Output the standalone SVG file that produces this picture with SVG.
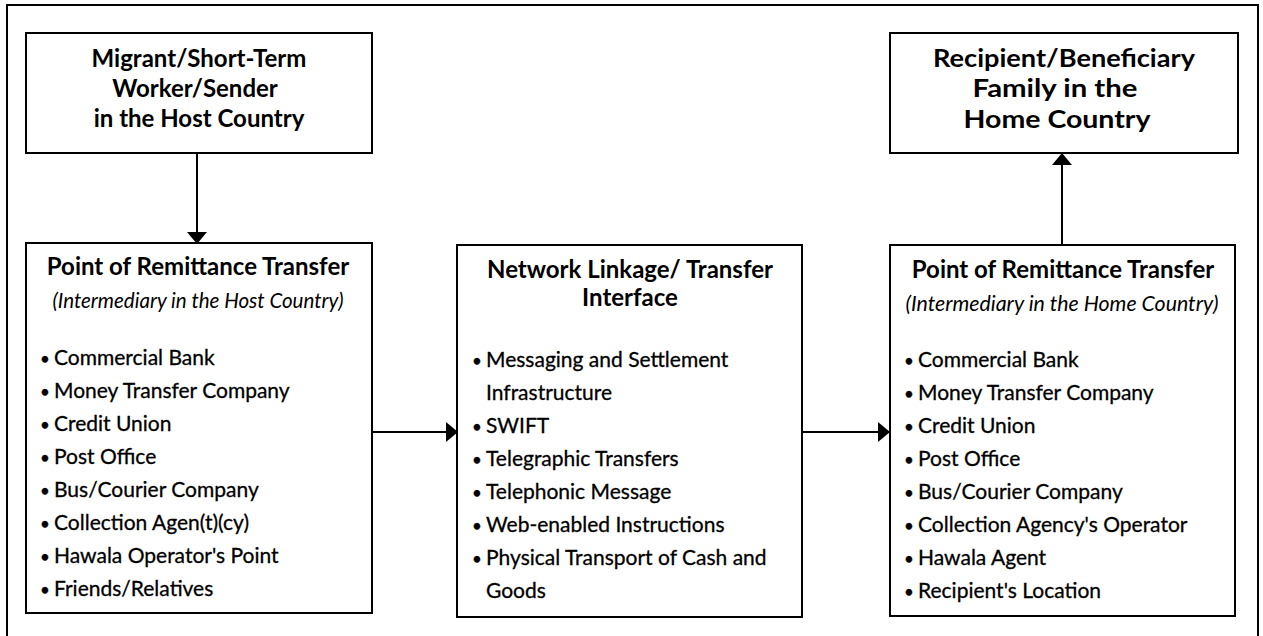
<svg xmlns="http://www.w3.org/2000/svg" width="1263" height="636" viewBox="0 0 1263 636">
<style>
.box{fill:#fff;stroke:#000;stroke-width:2}
.frame{fill:none;stroke:#000;stroke-width:2}
.t{font-family:Lato,"Open Sans","Liberation Sans",sans-serif;fill:#000}
.h{font-size:24px;font-weight:bold;text-anchor:middle}
.s{font-size:21px;font-style:italic;text-anchor:middle}
.b{font-size:21px;stroke:#000;stroke-width:0.3}
.d{font-size:17px}
.con{stroke:#000;stroke-width:2;fill:none}
</style>
<defs>
<marker id="ah" markerWidth="12" markerHeight="20" refX="11" refY="10" orient="auto" markerUnits="userSpaceOnUse">
<path d="M0,0 L12,10 L0,20 Z" fill="#000"/>
</marker>
</defs>
<rect width="1263" height="636" fill="#fff"/>
<path class="frame" d="M7,636 L7,5 L1258,5 L1258,636"/>

<g id="sender">
<rect class="box" x="26" y="33" width="346" height="120"/>
<text class="t h" x="199" y="67">Migrant/Short-Term</text>
<text class="t h" x="195" y="97">Worker/Sender</text>
<text class="t h" x="199" y="127">in the Host Country</text>
</g>

<g id="recipient">
<rect class="box" x="890" y="33" width="348" height="120"/>
<text class="t h" x="1064" y="67" textLength="262" lengthAdjust="spacingAndGlyphs">Recipient/Beneficiary</text>
<text class="t h" x="1055" y="97" textLength="165" lengthAdjust="spacingAndGlyphs">Family in the</text>
<text class="t h" x="1057" y="128" textLength="187" lengthAdjust="spacingAndGlyphs">Home Country</text>
</g>

<g id="host-point">
<rect class="box" x="26" y="243" width="346" height="370"/>
<text class="t h" x="198" y="275">Point of Remittance Transfer</text>
<text class="t s" x="198" y="308" textLength="291" lengthAdjust="spacingAndGlyphs">(Intermediary in the Host Country)</text>
<text class="t b" y="365"><tspan class="d" x="40">•</tspan><tspan x="54">Commercial Bank</tspan></text>
<text class="t b" y="398"><tspan class="d" x="40">•</tspan><tspan x="54">Money Transfer Company</tspan></text>
<text class="t b" y="431"><tspan class="d" x="40">•</tspan><tspan x="54">Credit Union</tspan></text>
<text class="t b" y="464"><tspan class="d" x="40">•</tspan><tspan x="54">Post Office</tspan></text>
<text class="t b" y="497"><tspan class="d" x="40">•</tspan><tspan x="54">Bus/Courier Company</tspan></text>
<text class="t b" y="530"><tspan class="d" x="40">•</tspan><tspan x="54">Collection Agen(t)(cy)</tspan></text>
<text class="t b" y="563"><tspan class="d" x="40">•</tspan><tspan x="54">Hawala Operator's Point</tspan></text>
<text class="t b" y="596"><tspan class="d" x="40">•</tspan><tspan x="54">Friends/Relatives</tspan></text>
</g>

<g id="network">
<rect class="box" x="457" y="245" width="345" height="372"/>
<text class="t h" x="630" y="278">Network Linkage/ Transfer</text>
<text class="t h" x="630" y="306">Interface</text>
<text class="t b" y="367"><tspan class="d" x="472">•</tspan><tspan x="486">Messaging and Settlement</tspan></text>
<text class="t b" x="486" y="400">Infrastructure</text>
<text class="t b" y="433"><tspan class="d" x="472">•</tspan><tspan x="486">SWIFT</tspan></text>
<text class="t b" y="466"><tspan class="d" x="472">•</tspan><tspan x="486">Telegraphic Transfers</tspan></text>
<text class="t b" y="499"><tspan class="d" x="472">•</tspan><tspan x="486">Telephonic Message</tspan></text>
<text class="t b" y="532"><tspan class="d" x="472">•</tspan><tspan x="486">Web-enabled Instructions</tspan></text>
<text class="t b" y="565"><tspan class="d" x="472">•</tspan><tspan x="486">Physical Transport of Cash and</tspan></text>
<text class="t b" x="486" y="598">Goods</text>
</g>

<g id="home-point">
<rect class="box" x="890" y="245" width="345" height="371"/>
<text class="t h" x="1063" y="278">Point of Remittance Transfer</text>
<text class="t s" x="1062" y="311" textLength="313" lengthAdjust="spacingAndGlyphs">(Intermediary in the Home Country)</text>
<text class="t b" y="367"><tspan class="d" x="904">•</tspan><tspan x="918">Commercial Bank</tspan></text>
<text class="t b" y="400"><tspan class="d" x="904">•</tspan><tspan x="918">Money Transfer Company</tspan></text>
<text class="t b" y="433"><tspan class="d" x="904">•</tspan><tspan x="918">Credit Union</tspan></text>
<text class="t b" y="466"><tspan class="d" x="904">•</tspan><tspan x="918">Post Office</tspan></text>
<text class="t b" y="499"><tspan class="d" x="904">•</tspan><tspan x="918">Bus/Courier Company</tspan></text>
<text class="t b" y="532"><tspan class="d" x="904">•</tspan><tspan x="918">Collection Agency's Operator</tspan></text>
<text class="t b" y="565"><tspan class="d" x="904">•</tspan><tspan x="918">Hawala Agent</tspan></text>
<text class="t b" y="598"><tspan class="d" x="904">•</tspan><tspan x="918">Recipient's Location</tspan></text>
</g>

<g id="connectors">
<line class="con" x1="197" y1="153" x2="197" y2="243" marker-end="url(#ah)"/>
<line class="con" x1="372" y1="432" x2="457" y2="432" marker-end="url(#ah)"/>
<line class="con" x1="802" y1="432" x2="889" y2="432" marker-end="url(#ah)"/>
<line class="con" x1="1062" y1="245" x2="1062" y2="154" marker-end="url(#ah)"/>
</g>
</svg>
